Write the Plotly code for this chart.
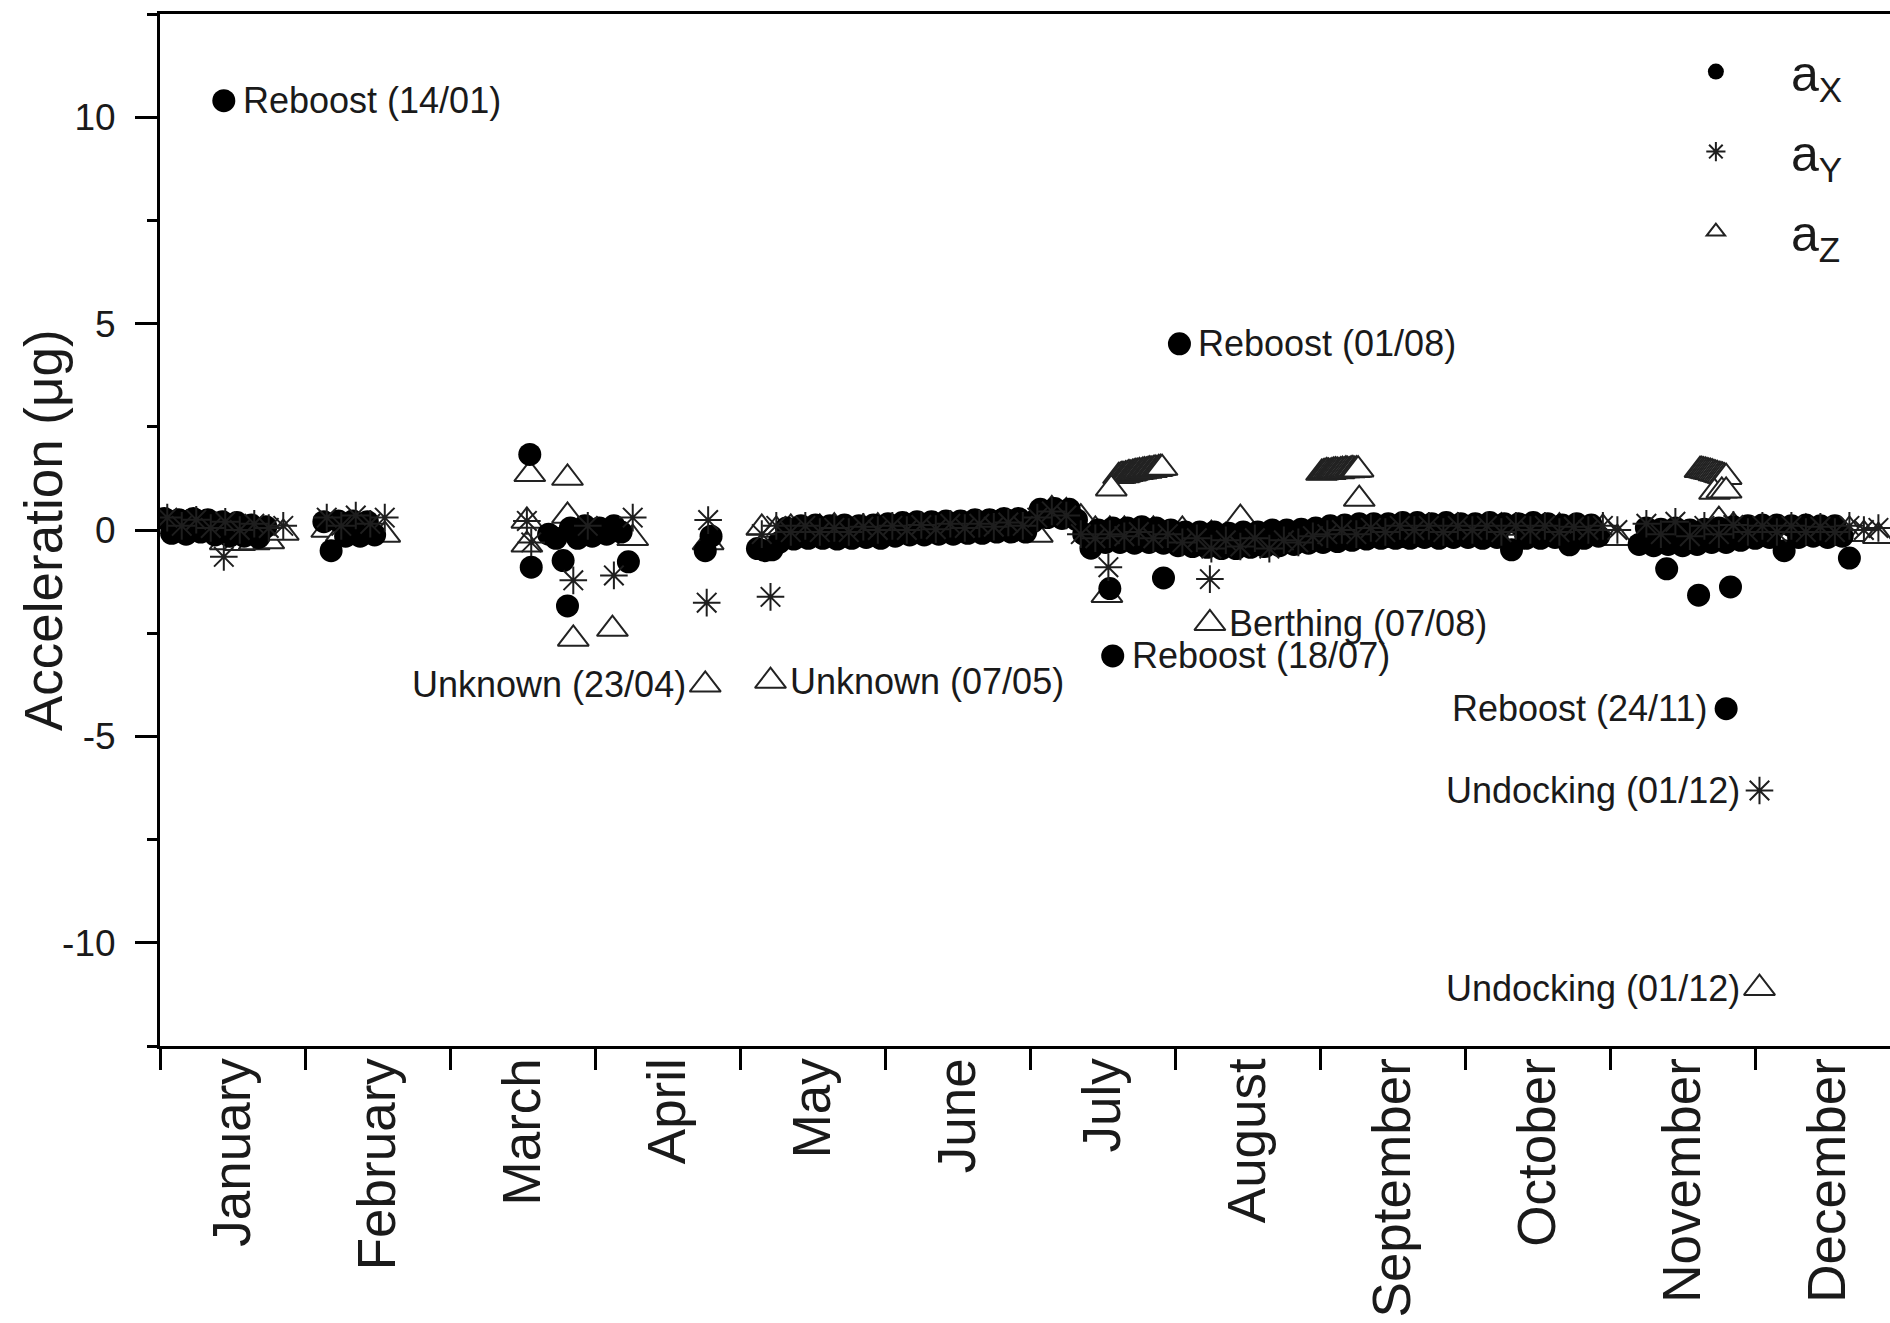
import plotly.graph_objects as go

# ---------------- data (x in month units: 0 = 1 January, 12 = 31 December) ----------------
MONTHS = ["January", "February", "March", "April", "May", "June", "July",
          "August", "September", "October", "November", "December"]

# a_X : continuous record, regularly sampled segments (start, common step) + values
AX_SEG_START = [0.03, 1.13, 2.68, 4.12, 10.20]
AX_SEG_STEP = 0.05
AX_SEG_VALUES = [
    [0.28, -0.08, 0.25, -0.10, 0.28, -0.05, 0.25, -0.12, 0.20, -0.15,
     0.18, -0.15, 0.12, -0.18, 0.08],
    [0.20, -0.50, 0.22, -0.15, 0.22, -0.15, 0.20, -0.12],
    [-0.10, -0.20, -0.74, 0.05, -0.20, 0.10, -0.15, 0.05, -0.10, 0.10,
     -0.05, -0.77],
    [-0.45, -0.50, -0.48, -0.30, 0.05, -0.22, 0.10, -0.20, 0.12, -0.20,
     0.10, -0.22, 0.12, -0.20, 0.10, -0.18, 0.12, -0.20,
     0.15, -0.15, 0.18, -0.12, 0.20, -0.12, 0.20, -0.10, 0.22, -0.10,
     0.22, -0.08, 0.25, -0.08, 0.25, -0.05, 0.28, -0.05, 0.28, -0.05,
     0.20, 0.50, 0.30, 0.52, 0.28, 0.50, 0.25,
     -0.10, -0.44, 0.00, -0.30, 0.05, -0.30, 0.05, -0.32, 0.08, -0.30,
     0.05, -0.32, 0.00,
     -0.38, -0.05, -0.40, -0.05, -0.42, -0.05, -0.45, -0.08, -0.45, -0.05,
     -0.42, -0.05, -0.40, 0.00, -0.38, 0.00, -0.35, 0.02, -0.32, 0.05,
     -0.30, 0.10, -0.28, 0.12, -0.25, 0.15, -0.22, 0.15, -0.20, 0.15,
     -0.20, 0.18, -0.20, 0.18, -0.18, 0.15, -0.20, 0.18, -0.18, 0.15,
     -0.18, 0.15, -0.20, 0.18, -0.18, 0.15, -0.48, 0.15, -0.20, 0.18,
     -0.20, 0.15, -0.18, 0.12, -0.36, 0.15, -0.20, 0.12, -0.15],
    [-0.35, 0.05, -0.38, 0.02, -0.35, 0.05, -0.38, 0.00, -0.35, 0.02,
     -0.30, 0.05, -0.30, 0.08, -0.25, 0.10,
     -0.20, 0.12, -0.18, 0.12, -0.50, 0.10, -0.18, 0.12, -0.15, 0.10,
     -0.18, 0.10, -0.15, -0.68],
]
AX_OTHER_X = [2.55, 2.56, 2.81, 3.76, 3.80, 6.55, 6.92, 10.39, 10.61, 10.83]
AX_OTHER_Y = [1.83, -0.90, -1.84, -0.50, -0.15, -1.42, -1.16, -0.94, -1.58, -1.38]

# a_Y
AY_SEG_START = [0.05, 1.15, 4.15, 10.25]
AY_SEG_STEP = 0.10
AY_SEG_VALUES = [
    [0.30, 0.10, 0.25, 0.05, 0.20, 0.00, 0.15, 0.05, 0.10],
    [0.30, 0.10, 0.35, 0.15, 0.30],
    [-0.10, 0.10, -0.05, 0.10, -0.05, 0.05, -0.05, 0.08, 0.00, 0.10,
     0.00, 0.12, 0.02, 0.15, 0.05, 0.15, 0.08, 0.18, 0.10, 0.30,
     0.45, 0.35, -0.10, -0.20, -0.10, -0.15, -0.05, -0.20, -0.10, -0.30,
     -0.20, -0.45, -0.25, -0.40, -0.20, -0.45, -0.25, -0.30, -0.15, -0.10,
     0.00, -0.10, 0.05, -0.05, 0.10, 0.00, 0.10, -0.05, 0.10, 0.00,
     0.10, -0.05, 0.10, 0.00, 0.10, -0.05, 0.08, 0.00, 0.10, 0.00],
    [0.15, -0.10, 0.20, -0.15, 0.10, -0.10, 0.12, -0.05, 0.10, -0.05,
     0.10, -0.05, 0.08, -0.05, 0.10, 0.00, 0.05],
]
AY_OTHER_X = [0.44, 2.53, 2.56, 2.85, 2.95, 3.13, 3.26, 3.78, 3.77, 4.21, 6.54, 7.24]
AY_OTHER_Y = [-0.65, 0.22, -0.30, -1.22, 0.10, -1.10, 0.30, 0.24, -1.76, -1.62, -0.90, -1.19]

# a_Z
AZ_SEG_START = [0.05, 1.15, 4.15, 10.25]
AZ_SEG_STEP = 0.10
AZ_SEG_VALUES = [
    [0.20, 0.15, 0.18, 0.10, -0.30, -0.32, -0.30, -0.28, -0.07],
    [0.00, -0.10, 0.05, -0.05, -0.12],
    [0.05, 0.00, 0.05, 0.00, 0.05, 0.08, 0.00, 0.05, 0.08, 0.05,
     0.08, 0.05, 0.10, 0.08, 0.12, 0.10, 0.12, 0.15, 0.12, -0.12,
     0.50, 0.45, 0.30, 0.00, 0.00, 0.00, -0.05, 0.00, -0.10, 0.00,
     -0.20, -0.10, -0.15, 0.29, -0.20, -0.25, -0.20, -0.15, -0.16, -0.10,
     -0.10, 0.00, 0.05, 0.00, -0.25, 0.05, 0.00, 0.05, 0.08, 0.05,
     0.05, 0.08, 0.05, 0.00, 0.05, 0.08, 0.05, 0.00, 0.05, -0.20],
    [-0.20, -0.10, -0.20, -0.10, -0.20, 0.24, 0.10, 0.00, -0.05, 0.00,
     -0.10, 0.05, 0.00, -0.05, 0.00, -0.10, -0.15],
]
# plateaus of a_Z around +1.4 (densely sampled)
AZ_PLAT_START = [6.61, 8.01, 10.62]
AZ_PLAT_STEP = 0.012
AZ_PLAT_VALUES = [
    [1.30, 1.31, 1.33, 1.32, 1.34, 1.35, 1.37, 1.36, 1.38, 1.39, 1.40, 1.40, 1.42,
     1.41, 1.43, 1.44, 1.43, 1.45, 1.46, 1.45, 1.47, 1.48, 1.47, 1.49, 1.50, 1.50],
    [1.38, 1.39, 1.40, 1.42, 1.41, 1.40, 1.42, 1.43, 1.44, 1.43, 1.42,
     1.44, 1.45, 1.44, 1.46, 1.45, 1.44, 1.46, 1.47, 1.45, 1.46, 1.46],
    [1.45, 1.45, 1.44, 1.43, 1.42, 1.41, 1.40, 1.39,
     1.37, 1.36, 1.35, 1.33, 1.32, 1.31, 1.29, 1.28],
]
AZ_OTHER_X = [2.55, 2.53, 2.53, 2.81, 2.81, 2.93, 3.26, 2.85, 3.12, 3.78, 6.56, 6.53, 8.27, 10.72, 10.77, 10.80]
AZ_OTHER_Y = [1.35, 0.22, -0.36, 1.26, 0.34, -0.15, -0.20, -2.64, -2.40, -0.30, 1.00, -1.58, 0.75, 0.92, 0.95, 0.95]

# labelled events
EVENT_SERIES = ["ax", "az", "az", "ax", "ax", "az", "ax", "ay", "az"]
EVENT_X = [0.44, 3.76, 4.21, 6.57, 7.03, 7.24, 10.80, 11.03, 11.03]
EVENT_Y = [10.40, -3.75, -3.66, -3.05, 4.51, -2.26, -4.33, -6.31, -11.10]
EVENT_TEXT = ["Reboost (14/01)", "Unknown (23/04)", "Unknown (07/05)", "Reboost (18/07)",
              "Reboost (01/08)", "Berthing (07/08)", "Reboost (24/11)",
              "Undocking (01/12)", "Undocking (01/12)"]


# ---------------- assemble series ----------------
def segments(starts, step, values):
    xs, ys = [], []
    for s, vals in zip(starts, values):
        for i, v in enumerate(vals):
            xs.append(round(s + i * step, 4))
            ys.append(v)
    return xs, ys


def events_of(name):
    xs = [x for s, x in zip(EVENT_SERIES, EVENT_X) if s == name]
    ys = [y for s, y in zip(EVENT_SERIES, EVENT_Y) if s == name]
    return xs, ys


ax_x, ax_y = segments(AX_SEG_START, AX_SEG_STEP, AX_SEG_VALUES)
ex, ey = events_of("ax")
ax_x += AX_OTHER_X + ex
ax_y += AX_OTHER_Y + ey

ay_x, ay_y = segments(AY_SEG_START, AY_SEG_STEP, AY_SEG_VALUES)
ex, ey = events_of("ay")
ay_x += AY_OTHER_X + ex
ay_y += AY_OTHER_Y + ey

az_x, az_y = segments(AZ_SEG_START, AZ_SEG_STEP, AZ_SEG_VALUES)
px, py = segments(AZ_PLAT_START, AZ_PLAT_STEP, AZ_PLAT_VALUES)
ex, ey = events_of("az")
az_x += px + AZ_OTHER_X + ex
az_y += py + AZ_OTHER_Y + ey

FONT = "Liberation Sans, Arial, Helvetica, sans-serif"
INK = "#1a1a1a"

fig = go.Figure()
fig.add_trace(go.Scatter(
    x=az_x, y=az_y, mode="markers", name="a<sub>Z</sub>", legendrank=3, legendgroup="z",
    marker=dict(symbol="triangle-up", size=27, color="white", line=dict(color="#222222", width=2)),
))
fig.add_trace(go.Scatter(
    x=ax_x, y=ax_y, mode="markers", name="a<sub>X</sub>", legendrank=1, legendgroup="x",
    marker=dict(symbol="circle", size=23, color="black", line=dict(width=0)),
))
fig.add_trace(go.Scatter(
    x=ay_x, y=ay_y, mode="markers", name="a<sub>Y</sub>", legendrank=2, legendgroup="y",
    marker=dict(symbol="asterisk-open", size=23, color="#1e1e1e", line=dict(color="#1e1e1e", width=2)),
))

LABEL_LEFT = {1, 6, 7, 8}  # events whose label sits to the left of the marker
for i, (x, y, t) in enumerate(zip(EVENT_X, EVENT_Y, EVENT_TEXT)):
    left = i in LABEL_LEFT
    fig.add_annotation(
        x=x, y=y, text=t, showarrow=False,
        xanchor="right" if left else "left", yanchor="middle",
        xshift=-17 if left else 17,
        font=dict(family=FONT, size=36, color=INK),
    )

# y-axis title (placed as a rotated annotation to sit close to the axis, as in the original)
fig.add_annotation(
    text="Acceleration (μg)", textangle=-90, showarrow=False,
    xref="paper", yref="paper", x=-0.0676, y=0.5, xanchor="center", yanchor="middle",
    font=dict(family=FONT, size=53, color=INK),
)

fig.update_layout(
    width=1890, height=1323,
    margin=dict(l=160, r=0, t=14, b=277, autoexpand=False),
    paper_bgcolor="white", plot_bgcolor="white",
    font=dict(family=FONT, color=INK),
    showlegend=True,
    legend=dict(x=0.856, y=0.982, xanchor="left", yanchor="top",
                font=dict(family=FONT, size=50, color=INK),
                bgcolor="rgba(0,0,0,0)", traceorder="grouped", tracegroupgap=12,
                itemwidth=140),
)
fig.update_xaxes(
    range=[0, 11.93], showgrid=False, zeroline=False, automargin=False,
    showline=True, linewidth=3, linecolor="black", mirror=True,
    tickmode="array", tickvals=[i + 0.5 for i in range(12)], ticktext=MONTHS,
    ticks="", tickangle=-90, tickfont=dict(family=FONT, size=53, color=INK),
    ticklabelstandoff=-12,
    minor=dict(tickmode="array", tickvals=list(range(13)), ticks="outside",
               ticklen=21, tickwidth=3, tickcolor="black", showgrid=False),
)
fig.update_yaxes(
    range=[-12.5, 12.5], showgrid=False, zeroline=False, automargin=False,
    showline=True, linewidth=3, linecolor="black",
    tickmode="array", tickvals=[-10, -5, 0, 5, 10],
    ticktext=["-10", "-5", "0", "5", "10"],
    ticks="outside", ticklen=22, tickwidth=3, tickcolor="black",
    tickfont=dict(family=FONT, size=37, color=INK), ticklabelstandoff=12,
    minor=dict(dtick=2.5, ticks="outside", ticklen=10, tickwidth=3, tickcolor="black", showgrid=False),
)

fig.write_html("out.html", config={"displayModeBar": False},
               post_script="document.body.style.margin='0';")
